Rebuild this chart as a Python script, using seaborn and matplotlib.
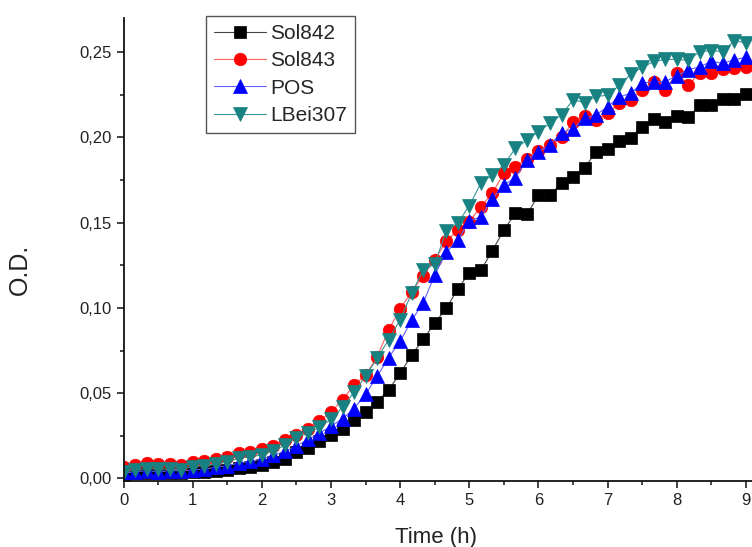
import numpy as np
import pandas as pd
import matplotlib
matplotlib.use("Agg")
import matplotlib.pyplot as plt
from matplotlib.ticker import FuncFormatter, MultipleLocator
import seaborn as sns

# sampling every 10 min, 0 .. 9 h
time_min = list(range(0, 550, 10))
time_h = [m / 60 for m in time_min]

sol842 = [0.002, 0.003, 0.003, 0.003, 0.003, 0.003, 0.0035, 0.004, 0.0045, 0.005,
          0.006, 0.007, 0.008, 0.0095, 0.0115, 0.0155, 0.018, 0.022, 0.0254, 0.029,
          0.034, 0.039, 0.045, 0.052, 0.0616, 0.0724, 0.0816, 0.091, 0.0998, 0.111,
          0.1207, 0.122, 0.1336, 0.1457, 0.1555, 0.155, 0.166, 0.166, 0.1735, 0.1766,
          0.182, 0.1917, 0.193, 0.198, 0.1995, 0.2063, 0.211, 0.209, 0.2126, 0.2119,
          0.219, 0.219, 0.2224, 0.2224, 0.2255]
sol843 = [0.0068, 0.0078, 0.0088, 0.0082, 0.0082, 0.0078, 0.0098, 0.0102, 0.0113, 0.0123,
          0.0147, 0.0153, 0.017, 0.0191, 0.0225, 0.0254, 0.0288, 0.0338, 0.039, 0.046,
          0.055, 0.0604, 0.0714, 0.087, 0.0995, 0.1093, 0.119, 0.1283, 0.139, 0.1458,
          0.1506, 0.1594, 0.1672, 0.1793, 0.1829, 0.1873, 0.192, 0.1953, 0.2, 0.209,
          0.2124, 0.2103, 0.2142, 0.2199, 0.222, 0.2276, 0.2327, 0.2279, 0.2377, 0.2308,
          0.2377, 0.238, 0.24, 0.2406, 0.2415]
pos = [0.003, 0.004, 0.0045, 0.004, 0.0045, 0.0045, 0.005, 0.0055, 0.0065, 0.0075,
       0.009, 0.01, 0.0115, 0.0135, 0.016, 0.019, 0.0229, 0.0264, 0.0308, 0.035,
       0.041, 0.0494, 0.0598, 0.0709, 0.0805, 0.0927, 0.103, 0.1193, 0.1327, 0.1396,
       0.1512, 0.1533, 0.164, 0.1721, 0.1764, 0.1868, 0.1917, 0.1956, 0.2028, 0.2048,
       0.2113, 0.2132, 0.2181, 0.2236, 0.2259, 0.2318, 0.2327, 0.2327, 0.2361, 0.2396,
       0.2415, 0.2445, 0.2435, 0.2455, 0.247]
lbei307 = [0.004, 0.005, 0.0058, 0.0055, 0.0055, 0.0052, 0.007, 0.0075, 0.0085, 0.0095,
           0.012, 0.0125, 0.014, 0.016, 0.0195, 0.024, 0.0264, 0.030, 0.0347, 0.0418,
           0.0505, 0.06, 0.0704, 0.0814, 0.0931, 0.1086, 0.1222, 0.1257, 0.1452, 0.1497,
           0.16, 0.1731, 0.178, 0.1839, 0.1937, 0.1983, 0.2034, 0.2083, 0.2132, 0.222,
           0.2204, 0.224, 0.2247, 0.2305, 0.237, 0.241, 0.2445, 0.2457, 0.2457, 0.2452,
           0.2503, 0.2509, 0.2503, 0.2568, 0.2553]

names = ["Sol842", "Sol843", "POS", "LBei307"]
series = [sol842, sol843, pos, lbei307]
colors = ["#000000", "#ff0000", "#0000ff", "#188282"]
line_colors = ["#444444", "#ff6060", "#6060ff", "#3a9595"]
markers = ["s", "o", "^", "v"]
msizes = [8, 9, 9.5, 9.5]

sns.set_style("ticks")
plt.rcParams["font.family"] = ["Liberation Sans", "DejaVu Sans"]

fig = plt.figure(figsize=(7.52, 5.47), dpi=100)
ax = fig.add_axes([123.5 / 752, 66 / 547, 1 - 123.5 / 752, 463 / 547])

for name, vals, c, lc, m, ms in zip(names, series, colors, line_colors, markers, msizes):
    df = pd.DataFrame({"t": time_h, "od": vals})
    sns.lineplot(data=df, x="t", y="od", ax=ax, color=lc, lw=0.8, label=name,
                 marker=m, markersize=ms, markerfacecolor=c, markeredgecolor=c,
                 markeredgewidth=0.5)

ax.set_xlim(0, 9.087)
ax.set_ylim(-0.0015, 0.27)
ax.xaxis.set_major_locator(MultipleLocator(1))
ax.xaxis.set_minor_locator(MultipleLocator(0.5))
ax.yaxis.set_major_locator(MultipleLocator(0.05))
ax.yaxis.set_minor_locator(MultipleLocator(0.025))
ax.yaxis.set_major_formatter(FuncFormatter(lambda v, p: f"{v:.2f}".replace(".", ",")))
ax.tick_params(which="major", length=5, width=1.2, labelsize=12, colors="#222222")
ax.tick_params(which="minor", length=3, width=1.2)
for s in ["top", "right"]:
    ax.spines[s].set_visible(False)
for s in ["left", "bottom"]:
    ax.spines[s].set_linewidth(1.3)
    ax.spines[s].set_color("#111111")

ax.set_xlabel("Time (h)", fontsize=16, color="#222222")
ax.set_ylabel("O.D.", fontsize=18, color="#222222")
ax.xaxis.set_label_coords(0.497, -0.1)
ax.yaxis.set_label_coords(-0.146, 0.456)

leg = ax.legend(loc="upper left", bbox_to_anchor=(0.1313, 1.004), borderaxespad=0,
                fontsize=15, frameon=True, fancybox=False, framealpha=1,
                edgecolor="#555555", handlelength=2.5, handletextpad=0.2,
                labelspacing=0.4, borderpad=0.37)
leg.get_frame().set_linewidth(1.0)

fig.savefig("out.png", dpi=100)
